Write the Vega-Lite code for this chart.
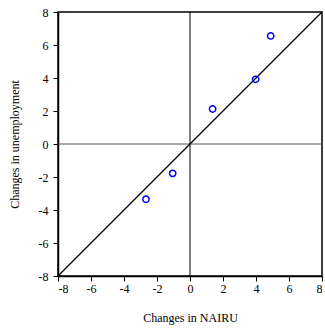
{
  "$schema": "https://vega.github.io/schema/vega-lite/v6.json",
  "autosize": "none",
  "width": 264,
  "height": 264,
  "padding": {"left": 58, "top": 12, "right": 3, "bottom": 53},
  "background": "white",
  "config": {
    "view": {"stroke": "black", "strokeWidth": 1.5},
    "font": "Liberation Serif",
    "axis": {
      "grid": false,
      "domainColor": "black",
      "domainWidth": 1.5,
      "tickColor": "black",
      "tickSize": 5,
      "tickWidth": 1,
      "labelOverlap": false,
      "labelFont": "Liberation Serif",
      "labelFontSize": 12,
      "labelColor": "black",
      "titleFont": "Liberation Serif",
      "titleFontSize": 12,
      "titleFontWeight": "normal",
      "titleColor": "black"
    },
    "axisX": {"title": "Changes in NAIRU", "values": [-8, -6, -4, -2, 0, 2, 4, 6, 8], "labelExpr": "'' + datum.value", "labelPadding": 2, "titlePadding": 18},
    "axisY": {"title": "Changes in unemployment", "values": [-8, -6, -4, -2, 0, 2, 4, 6, 8], "labelExpr": "'' + datum.value", "labelPadding": 5, "titlePadding": 17}
  },
  "datasets": {
    "points": [
      {"nairu": -2.67, "unemp": -3.35},
      {"nairu": -1.05, "unemp": -1.78},
      {"nairu": 1.37, "unemp": 2.12},
      {"nairu": 3.98, "unemp": 3.92},
      {"nairu": 4.89, "unemp": 6.55}
    ],
    "diag": [
      {"nairu": -8, "unemp": -8},
      {"nairu": 8, "unemp": 8}
    ],
    "zero": [{"nairu": 0, "unemp": 0}]
  },
  "layer": [
    {
      "data": {"name": "zero"},
      "mark": {"type": "rule", "color": "#555555", "strokeWidth": 1},
      "encoding": {
        "y": {
          "field": "unemp", "type": "quantitative", "title": "Changes in unemployment",
          "scale": {"domain": [-8, 8], "nice": false, "zero": false},
          "axis": {"values": [-8, -6, -4, -2, 0, 2, 4, 6, 8]}
        }
      }
    },
    {
      "data": {"name": "zero"},
      "mark": {"type": "rule", "color": "black", "strokeWidth": 1},
      "encoding": {
        "x": {
          "field": "nairu", "type": "quantitative", "title": "Changes in NAIRU",
          "scale": {"domain": [-8, 8], "nice": false, "zero": false},
          "axis": {"values": [-8, -6, -4, -2, 0, 2, 4, 6, 8]}
        }
      }
    },
    {
      "data": {"name": "diag"},
      "mark": {"type": "line", "color": "black", "strokeWidth": 1.2},
      "encoding": {
        "x": {"field": "nairu", "type": "quantitative", "title": "Changes in NAIRU", "axis": {"values": [-8, -6, -4, -2, 0, 2, 4, 6, 8]}},
        "y": {"field": "unemp", "type": "quantitative", "title": "Changes in unemployment", "axis": {"values": [-8, -6, -4, -2, 0, 2, 4, 6, 8]}}
      }
    },
    {
      "data": {"name": "points"},
      "mark": {"type": "point", "shape": "circle", "filled": false, "color": "#0000ff", "opacity": 1, "size": 40, "strokeWidth": 1.5},
      "encoding": {
        "x": {"field": "nairu", "type": "quantitative", "title": "Changes in NAIRU", "axis": {"values": [-8, -6, -4, -2, 0, 2, 4, 6, 8]}},
        "y": {"field": "unemp", "type": "quantitative", "title": "Changes in unemployment", "axis": {"values": [-8, -6, -4, -2, 0, 2, 4, 6, 8]}}
      }
    }
  ]
}
